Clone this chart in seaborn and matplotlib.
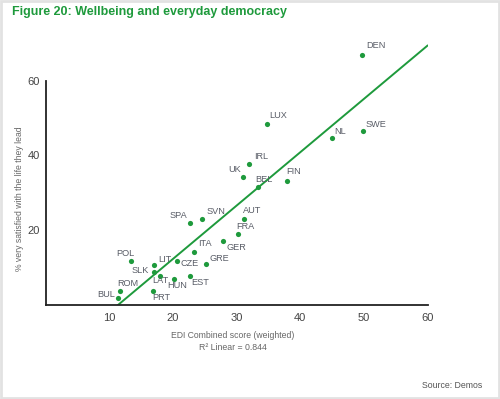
import matplotlib
matplotlib.use("Agg")
import matplotlib.pyplot as plt
from matplotlib.patches import Rectangle
import seaborn as sns
import pandas as pd

# dados
countries = ["DEN", "LUX", "SWE", "NL", "IRL", "UK", "BEL", "FIN", "AUT", "SVN",
             "SPA", "FRA", "GER", "ITA", "GRE", "CZE", "POL", "LIT", "SLK", "LAT",
             "HUN", "EST", "ROM", "BUL", "PRT"]
edi_score = [49.7, 34.8, 49.9, 44.9, 32.0, 31.0, 33.3, 37.9, 31.2, 24.6,
             22.7, 30.2, 27.9, 23.3, 25.2, 20.6, 13.4, 17.0, 17.0, 17.9,
             20.2, 22.7, 11.7, 11.3, 16.9]
very_satisfied = [66.8, 48.5, 46.4, 44.6, 37.7, 34.3, 31.5, 33.2, 23.0, 22.9,
                  21.9, 19.0, 17.2, 14.2, 11.0, 11.7, 11.7, 10.6, 8.8, 7.8,
                  7.0, 7.7, 3.8, 1.8, 3.8]
x_ticks = [10, 20, 30, 40, 50, 60]
y_ticks = [20, 40, 60]

# deslocamento dos rotulos (px) e alinhamento
label_pos = {
    "DEN": (4, 10, "left"), "LUX": (2, 8, "left"), "SWE": (2, 7, "left"),
    "NL": (3, 7, "left"), "IRL": (5, 7, "left"), "UK": (-2, 7, "right"),
    "BEL": (-2, 8, "left"), "FIN": (-1, 9, "left"), "AUT": (-1, 8, "left"),
    "SVN": (4, 8, "left"), "SPA": (-3, 8, "right"), "FRA": (-2, 7, "left"),
    "GER": (3, -7, "left"), "ITA": (4, 8, "left"), "GRE": (3, 5, "left"),
    "CZE": (4, -2, "left"), "POL": (-6, 8, "center"), "LIT": (4, 6, "left"),
    "SLK": (-5, 2, "right"), "LAT": (1, -5, "center"), "HUN": (3, -7, "center"),
    "EST": (1, -6, "left"), "ROM": (-3, 7, "left"), "BUL": (-3, 4, "right"),
    "PRT": (-1, -7, "left"),
}

GREEN = "#1e9a3c"
GREY = "#585c66"
fonts = ["Liberation Sans", "DejaVu Sans"]

sns.set_style("white")
plt.rcParams["font.family"] = fonts

df = pd.DataFrame({"edi": edi_score, "satisfied": very_satisfied, "country": countries})

fig = plt.figure(figsize=(5, 3.99), dpi=100)
ax = fig.add_axes([0.0914, 0.2356, 0.764, 0.675])
ax.set_xlim(0, 60)
ax.set_ylim(0, 72)

sns.regplot(data=df, x="edi", y="satisfied", ax=ax, ci=None, truncate=False,
            scatter_kws={"s": 14, "color": GREEN, "linewidths": 0, "alpha": 1},
            line_kws={"color": GREEN, "lw": 1.4})

for c, xv, yv in zip(countries, edi_score, very_satisfied):
    dx, dy, ha = label_pos[c]
    ax.annotate(c, (xv, yv), xytext=(dx * 0.72, dy * 0.72), textcoords="offset points",
                ha=ha, va="center", fontsize=6.6, color=GREY)

# eixos
for s in ["top", "right"]:
    ax.spines[s].set_visible(False)
for s in ["left", "bottom"]:
    ax.spines[s].set_color("#222222")
    ax.spines[s].set_linewidth(1.3)
ax.spines["left"].set_bounds(0, 60)
ax.set_xticks(x_ticks)
ax.set_yticks(y_ticks)
ax.tick_params(axis="x", direction="in", length=3.6, width=1, color="#222222",
               labelsize=8, labelcolor="#444444", pad=6)
ax.tick_params(axis="y", direction="in", length=6.5, width=1, color="#222222",
               labelsize=8, labelcolor="#444444", pad=4)
ax.set_xlabel("")
ax.set_ylabel("")

# textos
fig.text(0.024, 1 - 12 / 399, "Figure 20: Wellbeing and everyday democracy", ha="left",
         va="center", fontsize=9, fontweight="bold", color=GREEN)
fig.text(232.5 / 500, 1 - 335.7 / 399, "EDI Combined score (weighted)", ha="center",
         va="center", fontsize=6.2, color="#666666")
fig.text(232.5 / 500, 1 - 347.3 / 399, "R² Linear = 0.844", ha="center",
         va="center", fontsize=6.3, color="#666666")
fig.text(20 / 500, 1 - 199 / 399, "% very satisfied with the life they lead", ha="center",
         va="center", rotation=90, fontsize=6.2, color="#666666")
fig.text(482 / 500, 1 - 385 / 399, "Source: Demos", ha="right", va="center",
         fontsize=6.3, color="#555555")

# moldura
fig.patches.append(Rectangle((0.002, 0.003), 0.996, 0.994, transform=fig.transFigure,
                             fill=False, edgecolor="#e2e2e2", lw=2))

fig.savefig("out.png", dpi=100)
